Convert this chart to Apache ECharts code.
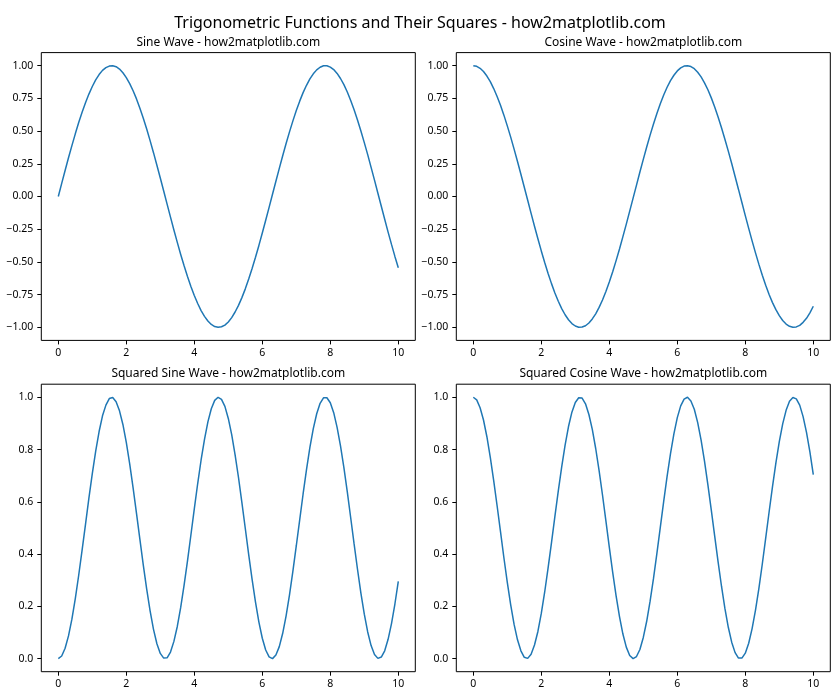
<!DOCTYPE html>
<html>
<head>
<meta charset="utf-8">
<script src="https://cdn.jsdelivr.net/npm/echarts@6/dist/echarts.min.js"></script>
<style>
html,body{margin:0;padding:0;background:#fff;}
#chart{width:840px;height:700px;}
</style>
</head>
<body>
<div id="chart"></div>
<script>
// ---- data ----
const xValues = [0.0,0.1,0.2,0.3,0.4,0.5,0.6,0.7,0.8,0.9,1.0,1.1,1.2,1.3,1.4,1.5,1.6,1.7,1.8,1.9,2.0,2.1,2.2,2.3,2.4,2.5,2.6,2.7,2.8,2.9,3.0,3.1,3.2,3.3,3.4,3.5,3.6,3.7,3.8,3.9,4.0,4.1,4.2,4.3,4.4,4.5,4.6,4.7,4.8,4.9,5.0,5.1,5.2,5.3,5.4,5.5,5.6,5.7,5.8,5.9,6.0,6.1,6.2,6.3,6.4,6.5,6.6,6.7,6.8,6.9,7.0,7.1,7.2,7.3,7.4,7.5,7.6,7.7,7.8,7.9,8.0,8.1,8.2,8.3,8.4,8.5,8.6,8.7,8.8,8.9,9.0,9.1,9.2,9.3,9.4,9.5,9.6,9.7,9.8,9.9,10.0];
const sineValues = [0.000,0.100,0.199,0.296,0.389,0.479,0.565,0.644,0.717,0.783,0.841,0.891,0.932,0.964,0.985,0.997,1.000,0.992,0.974,0.946,0.909,0.863,0.808,0.746,0.675,0.598,0.516,0.427,0.335,0.239,0.141,0.042,-0.058,-0.158,-0.256,-0.351,-0.443,-0.530,-0.612,-0.688,-0.757,-0.818,-0.872,-0.916,-0.952,-0.978,-0.994,-1.000,-0.996,-0.983,-0.959,-0.926,-0.883,-0.832,-0.773,-0.706,-0.631,-0.551,-0.465,-0.374,-0.279,-0.182,-0.083,0.017,0.117,0.215,0.312,0.405,0.494,0.578,0.657,0.729,0.794,0.850,0.899,0.938,0.968,0.988,0.999,0.999,0.989,0.970,0.941,0.902,0.855,0.799,0.734,0.663,0.585,0.501,0.412,0.320,0.223,0.125,0.025,-0.075,-0.174,-0.272,-0.366,-0.458,-0.544];
const cosineValues = [1.000,0.995,0.980,0.955,0.921,0.878,0.825,0.765,0.697,0.622,0.540,0.454,0.362,0.268,0.170,0.071,-0.029,-0.129,-0.227,-0.323,-0.416,-0.505,-0.589,-0.666,-0.737,-0.801,-0.857,-0.904,-0.942,-0.971,-0.990,-0.999,-0.998,-0.988,-0.967,-0.936,-0.897,-0.848,-0.791,-0.726,-0.654,-0.575,-0.490,-0.401,-0.307,-0.211,-0.112,-0.012,0.087,0.187,0.284,0.378,0.469,0.554,0.635,0.709,0.776,0.835,0.886,0.927,0.960,0.983,0.997,1.000,0.993,0.977,0.950,0.914,0.869,0.816,0.754,0.685,0.608,0.526,0.438,0.347,0.252,0.153,0.054,-0.046,-0.146,-0.244,-0.339,-0.431,-0.519,-0.602,-0.679,-0.749,-0.811,-0.865,-0.911,-0.948,-0.975,-0.992,-1.000,-0.997,-0.985,-0.962,-0.931,-0.889,-0.839];
const sineSqValues = [0.000,0.010,0.040,0.087,0.151,0.230,0.319,0.415,0.514,0.614,0.708,0.794,0.869,0.929,0.970,0.995,0.999,0.983,0.948,0.896,0.827,0.745,0.653,0.556,0.456,0.358,0.266,0.183,0.112,0.057,0.020,0.002,0.003,0.025,0.066,0.123,0.196,0.281,0.374,0.473,0.573,0.670,0.760,0.839,0.906,0.956,0.988,1.000,0.992,0.965,0.919,0.857,0.780,0.693,0.597,0.498,0.398,0.303,0.216,0.140,0.078,0.033,0.007,0.000,0.014,0.046,0.097,0.164,0.244,0.335,0.432,0.531,0.630,0.723,0.808,0.880,0.937,0.977,0.998,0.998,0.979,0.941,0.885,0.814,0.731,0.638,0.539,0.439,0.342,0.251,0.170,0.102,0.050,0.016,0.001,0.006,0.030,0.074,0.134,0.209,0.296];
const cosineSqValues = [1.000,0.990,0.960,0.913,0.849,0.770,0.681,0.585,0.486,0.386,0.292,0.206,0.131,0.072,0.030,0.005,0.001,0.017,0.052,0.104,0.173,0.255,0.347,0.444,0.544,0.642,0.734,0.817,0.888,0.943,0.980,0.998,0.997,0.975,0.934,0.877,0.804,0.719,0.626,0.527,0.427,0.330,0.240,0.161,0.094,0.044,0.012,0.000,0.008,0.035,0.081,0.143,0.220,0.307,0.403,0.502,0.602,0.697,0.784,0.860,0.922,0.967,0.993,1.000,0.986,0.954,0.903,0.836,0.756,0.665,0.568,0.469,0.370,0.277,0.192,0.120,0.063,0.023,0.002,0.002,0.021,0.059,0.115,0.186,0.269,0.362,0.461,0.561,0.658,0.749,0.830,0.898,0.950,0.985,0.999,0.994,0.970,0.926,0.866,0.791,0.704];
const xTicks = [0,2,4,6,8,10];
const yTicksTrig = [-1.00,-0.75,-0.50,-0.25,0.00,0.25,0.50,0.75,1.00];
const yTicksSq = [0.0,0.2,0.4,0.6,0.8,1.0];
const mainTitle = 'Trigonometric Functions and Their Squares - how2matplotlib.com';
const subTitles = ['Sine Wave - how2matplotlib.com','Cosine Wave - how2matplotlib.com','Squared Sine Wave - how2matplotlib.com','Squared Cosine Wave - how2matplotlib.com'];

// ---- layout ----
const FONT = '"Noto Sans", "Open Sans", sans-serif';
const panels = [
  {left:41.3, top:52.6, w:374, h:287.8, y:sineValues, ymin:-1.1, ymax:1.1, yt:yTicksTrig, dec:2},
  {left:456.3, top:52.6, w:374, h:287.8, y:cosineValues, ymin:-1.1, ymax:1.1, yt:yTicksTrig, dec:2},
  {left:41.3, top:384.2, w:374, h:287.5, y:sineSqValues, ymin:-0.05, ymax:1.05, yt:yTicksSq, dec:1},
  {left:456.3, top:384.2, w:374, h:287.5, y:cosineSqValues, ymin:-0.05, ymax:1.05, yt:yTicksSq, dec:1}
];
function fmt(v, d){ const s = Math.abs(v).toFixed(d); return (v < 0 ? '\u2212' : '') + s; }

const grid = [], xAxis = [], yAxis = [], series = [];
const title = [{text: mainTitle, left: 420, top: 15, textAlign: 'center', padding: 0,
  textStyle:{fontFamily:FONT, fontSize:16, fontWeight:'normal', color:'#000'}}];

panels.forEach((p, i) => {
  grid.push({left:p.left, top:p.top, width:p.w, height:p.h, show:true, borderColor:'#000', borderWidth:1, backgroundColor:'transparent', containLabel:false});
  title.push({text: subTitles[i], left: p.left + p.w/2, top: p.top - 16.5, textAlign:'center', padding: 0,
    textStyle:{fontFamily:FONT, fontSize:12, fontWeight:'normal', color:'#000'}});
  xAxis.push({type:'value', gridIndex:i, min:-0.5, max:10.5, position:'bottom',
    axisLine:{show:false, onZero:false}, splitLine:{show:false},
    axisTick:{show:true, inside:false, customValues:xTicks, length:4, lineStyle:{color:'#000'}},
    axisLabel:{customValues:xTicks, margin:7, fontFamily:FONT, fontSize:10.5, color:'#000', formatter:v=>String(v)}});
  yAxis.push({type:'value', gridIndex:i, min:p.ymin, max:p.ymax, position:'left',
    axisLine:{show:false, onZero:false}, splitLine:{show:false},
    axisTick:{show:true, inside:false, customValues:p.yt, length:4, lineStyle:{color:'#000'}},
    axisLabel:{customValues:p.yt, margin:8, fontFamily:FONT, fontSize:10.5, color:'#000', formatter:v=>fmt(v,p.dec)}});
  series.push({type:'line', xAxisIndex:i, yAxisIndex:i, showSymbol:false, symbol:'none', smooth:false,
    data: xValues.map((x,k)=>[x, p.y[k]]),
    lineStyle:{color:'#1f77b4', width:1.5}, itemStyle:{color:'#1f77b4'}, animation:false, silent:true});
});

const chart = echarts.init(document.getElementById('chart'), null, {renderer:'canvas'});
chart.setOption({backgroundColor:'#fff', animation:false, title, grid, xAxis, yAxis, series});
</script>
</body>
</html>
